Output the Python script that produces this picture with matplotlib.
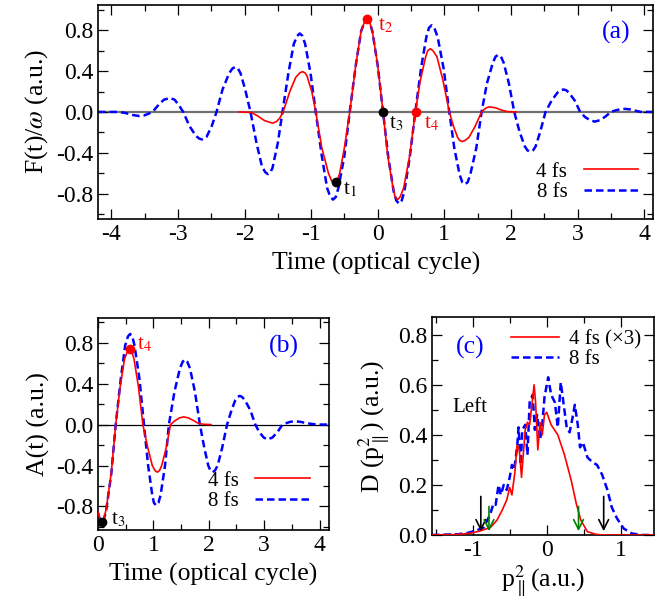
import matplotlib
matplotlib.use("Agg")
import matplotlib.pyplot as plt
from matplotlib.ticker import MultipleLocator

plt.rcParams['font.family'] = ['Liberation Serif', 'DejaVu Serif']
plt.rcParams['mathtext.fontset'] = 'stix'

# ---- panel (a): F(t)/omega ----
t_a8 = [-4.2, -3.9, -3.79, -3.68, -3.58, -3.51, -3.45, -3.38, -3.29, -3.21, -3.12,
        -3.05, -2.99, -2.92, -2.83, -2.73, -2.68, -2.64, -2.60, -2.57, -2.49, -2.42,
        -2.33, -2.23, -2.18, -2.14, -2.10, -2.06, -1.99, -1.91, -1.82, -1.74, -1.69,
        -1.65, -1.61, -1.58, -1.50, -1.43, -1.34, -1.26, -1.21, -1.17, -1.13, -1.09,
        -1.01, -0.93, -0.84, -0.76, -0.71, -0.67, -0.63, -0.59, -0.50, -0.42, -0.33,
        -0.25, -0.20, -0.16, -0.12, -0.08, 0.0, 0.08, 0.16, 0.24, 0.28, 0.32, 0.36,
        0.40, 0.48, 0.565, 0.65, 0.73, 0.77, 0.81, 0.85, 0.90, 0.99, 1.075, 1.15,
        1.23, 1.27, 1.31, 1.35, 1.39, 1.48, 1.56, 1.64, 1.73, 1.77, 1.81, 1.85,
        1.89, 1.97, 2.05, 2.13, 2.21, 2.25, 2.29, 2.33, 2.37, 2.44, 2.52, 2.61,
        2.70, 2.75, 2.79, 2.83, 2.87, 2.96, 3.04, 3.11, 3.19, 3.26, 3.34, 3.42,
        3.50, 3.57, 3.64, 3.71, 3.79, 3.87, 3.95, 4.15]
f_a8 = [0.0, 0.0, -0.01, -0.03, -0.04, -0.035, -0.02, 0.0, 0.07, 0.12, 0.137,
        0.12, 0.07, 0.0, -0.135, -0.235, -0.261, -0.27, -0.261, -0.245, -0.135, 0.0,
        0.22, 0.38, 0.427, 0.44, 0.427, 0.38, 0.22, 0.0, -0.305, -0.53, -0.59,
        -0.61, -0.59, -0.55, -0.305, 0.0, 0.385, 0.667, 0.745, 0.77, 0.745, 0.667,
        0.385, 0.0, -0.43, -0.745, -0.835, -0.86, -0.835, -0.745, -0.43, 0.0, 0.455,
        0.79, 0.88, 0.91, 0.88, 0.79, 0.455, 0.0, -0.45, -0.78, -0.87, -0.90, -0.87,
        -0.78, -0.45, 0.0, 0.425, 0.735, 0.825, 0.85, 0.825, 0.735, 0.425, 0.0, -0.355,
        -0.615, -0.69, -0.71, -0.69, -0.615, -0.355, 0.0, 0.28, 0.485, 0.543, 0.56, 0.543,
        0.485, 0.28, 0.0, -0.195, -0.34, -0.378, -0.39, -0.378, -0.34, -0.195, 0.0, 0.11,
        0.19, 0.213, 0.22, 0.213, 0.19, 0.11, 0.0, -0.048, -0.082, -0.095, -0.08, -0.045,
        0.0, 0.015, 0.026, 0.03, 0.025, 0.012, 0.0, 0.0]

t_a4 = [-2.08, -1.9, -1.8, -1.7, -1.58, -1.52, -1.47, -1.42, -1.32, -1.23, -1.17,
        -1.13, -1.09, -1.06, -0.99, -0.93, -0.84, -0.74, -0.69, -0.65, -0.61, -0.57,
        -0.50, -0.42, -0.33, -0.25, -0.20, -0.16, -0.12, -0.08, 0.0, 0.08, 0.15,
        0.23, 0.26, 0.30, 0.34, 0.39, 0.48, 0.565, 0.64, 0.72, 0.75, 0.79, 0.83,
        0.89, 0.98, 1.075, 1.14, 1.20, 1.23, 1.27, 1.31, 1.37, 1.46, 1.56, 1.60,
        1.64, 1.68, 1.77, 1.86, 1.95, 2.08]
f_a4 = [0.0, -0.005, -0.04, -0.085, -0.11, -0.095, -0.06, 0.0, 0.2, 0.34, 0.383,
        0.395, 0.383, 0.35, 0.2, 0.0, -0.35, -0.6, -0.68, -0.70, -0.68, -0.6,
        -0.35, 0.0, 0.455, 0.79, 0.88, 0.91, 0.88, 0.79, 0.455, 0.0, -0.43,
        -0.745, -0.83, -0.86, -0.83, -0.745, -0.43, 0.0, 0.31, 0.54, 0.60, 0.62, 0.60,
        0.54, 0.31, 0.0, -0.145, -0.25, -0.28, -0.29, -0.28, -0.25, -0.145, 0.0, 0.025,
        0.043, 0.05, 0.04, 0.018, 0.003, 0.0]

# instants marked on panel (a)
t_marks = [-0.63, -0.16, 0.08, 0.58]
f_marks = [-0.69, 0.91, 0.0, 0.0]
mark_names = ['t$_1$', 't$_2$', 't$_3$', 't$_4$']
mark_colors = ['black', 'red', 'black', 'red']

# ---- panel (b): A(t) ----
t_b8 = [0.0, 0.035, 0.07, 0.11, 0.15, 0.24, 0.32, 0.41, 0.49, 0.54, 0.58, 0.62,
        0.66, 0.75, 0.83, 0.905, 0.98, 1.01, 1.05, 1.09, 1.13, 1.21, 1.28, 1.38,
        1.48, 1.53, 1.57, 1.61, 1.66, 1.75, 1.84, 1.92, 1.99, 2.03, 2.07, 2.11,
        2.16, 2.24, 2.33, 2.41, 2.48, 2.52, 2.56, 2.60, 2.65, 2.75, 2.84, 2.91,
        2.99, 3.06, 3.15, 3.24, 3.33, 3.41, 3.48, 3.56, 3.66, 3.76, 3.9, 4.0, 4.17]
a_b8 = [-0.86, -0.93, -0.95, -0.92, -0.83, -0.48, 0.0, 0.44, 0.77, 0.86, 0.885, 0.86,
        0.77, 0.44, 0.0, -0.40, -0.69, -0.765, -0.79, -0.765, -0.69, -0.40, 0.0, 0.32,
        0.55, 0.615, 0.635, 0.615, 0.55, 0.32, 0.0, -0.23, -0.40, -0.45, -0.465, -0.45,
        -0.40, -0.23, 0.0, 0.14, 0.24, 0.27, 0.28, 0.27, 0.24, 0.14, 0.0, -0.073,
        -0.126, -0.146, -0.126, -0.073, 0.0, 0.016, 0.028, 0.032, 0.026, 0.014, 0.003,
        0.0, 0.0]
t_b4 = [0.0, 0.035, 0.07, 0.11, 0.15, 0.24, 0.32, 0.40, 0.48, 0.53, 0.57, 0.61,
        0.65, 0.73, 0.81, 0.90, 0.98, 1.03, 1.07, 1.11, 1.15, 1.23, 1.31, 1.39,
        1.47, 1.55, 1.63, 1.72, 1.80, 1.90, 2.04]
a_b4 = [-0.86, -0.92, -0.94, -0.91, -0.82, -0.47, 0.0, 0.37, 0.64, 0.715, 0.74, 0.715,
        0.64, 0.37, 0.0, -0.23, -0.40, -0.45, -0.465, -0.45, -0.40, -0.23, 0.0, 0.038,
        0.065, 0.075, 0.065, 0.04, 0.015, 0.003, 0.0]

# ---- panel (c): momentum distribution ----
p_c4 = [-1.55, -1.2, -1.03, -0.9, -0.76, -0.67, -0.60, -0.54, -0.50, -0.47, -0.43,
        -0.40, -0.37, -0.34, -0.29, -0.26, -0.23, -0.17, -0.15, -0.12, -0.09, -0.06,
        -0.03, 0.0, 0.06, 0.15, 0.24, 0.33, 0.40, 0.46, 0.55, 0.66, 0.75, 1.45]
d_c4 = [0.0, 0.002, 0.007, 0.016, 0.03, 0.06, 0.10, 0.14, 0.19, 0.16, 0.25,
        0.36, 0.34, 0.23, 0.42, 0.45, 0.44, 0.60, 0.53, 0.34, 0.45, 0.40,
        0.48, 0.49, 0.44, 0.40, 0.32, 0.22, 0.125, 0.06, 0.013, 0.003, 0.0, 0.0]
p_c8 = [-1.55, -1.2, -1.07, -0.95, -0.85, -0.80, -0.76, -0.72, -0.69, -0.65, -0.62,
        -0.58, -0.54, -0.50, -0.47, -0.44, -0.40, -0.38, -0.35, -0.33, -0.29, -0.26,
        -0.23, -0.19, -0.16, -0.13, -0.09, -0.06, -0.03, 0.02, 0.06, 0.11, 0.15,
        0.19, 0.23, 0.27, 0.31, 0.35, 0.38, 0.42, 0.45, 0.49, 0.55, 0.62, 0.68,
        0.75, 0.82, 0.88, 0.95, 1.04, 1.15, 1.28, 1.45]
d_c8 = [0.0, 0.003, 0.008, 0.018, 0.03, 0.06, 0.085, 0.125, 0.12, 0.20, 0.16,
        0.20, 0.18, 0.23, 0.28, 0.26, 0.35, 0.43, 0.28, 0.42, 0.44, 0.32,
        0.53, 0.56, 0.42, 0.48, 0.38, 0.44, 0.55, 0.63, 0.56, 0.53, 0.43,
        0.61, 0.52, 0.43, 0.41, 0.47, 0.52, 0.44, 0.35, 0.37, 0.31, 0.29, 0.28,
        0.24, 0.18, 0.11, 0.066, 0.026, 0.006, 0.0, 0.0]
black_arrows = [-0.89, 0.77]
green_arrows = [-0.78, 0.43]

fig = plt.figure(figsize=(6.55, 6.1), dpi=100)
TICK = 17
LAB = 18.5
SMALL = 15
DASH = (0, (3, 1.6))


def style(ax, xmin, ymin):
    ax.tick_params(which='both', direction='in', top=True, right=True, labelsize=TICK)
    ax.tick_params(which='major', length=7, width=0.9)
    ax.tick_params(which='minor', length=4, width=0.9)
    ax.xaxis.set_minor_locator(MultipleLocator(xmin))
    ax.yaxis.set_minor_locator(MultipleLocator(ymin))
    for s in ax.spines.values():
        s.set_linewidth(1.2)


# (a)
ax = fig.add_axes([0.1496, 0.641, 0.848, 0.351])
ax.axhline(0, color='#707070', lw=1.6, zorder=1)
ax.plot(t_a4, f_a4, color='red', lw=1.2, label='4 fs', zorder=3)
ax.plot(t_a8, f_a8, color='blue', lw=1.8, ls=DASH, label='8 fs', zorder=2)
for tm, fm, c in zip(t_marks, f_marks, mark_colors):
    ax.plot(tm, fm, 'o', color=c, ms=6, zorder=4)
ax.text(-0.52, -0.81, mark_names[0], color='black', fontsize=SMALL)
ax.text(0.0, 0.80, mark_names[1], color='red', fontsize=SMALL)
ax.text(0.165, -0.16, mark_names[2], color='black', fontsize=SMALL)
ax.text(0.69, -0.16, mark_names[3], color='red', fontsize=SMALL)
ax.text(3.37, 0.78, '(a)', color='blue', fontsize=LAB, va='center')
ax.set_xlim(-4.2, 4.14)
ax.set_ylim(-1.05, 1.05)
ax.set_xticks([-4, -3, -2, -1, 0, 1, 2, 3, 4])
ax.set_yticks([-0.8, -0.4, 0.0, 0.4, 0.8])
ax.set_yticklabels(['-0.8', '-0.4', '0.0', '0.4', '0.8'])
ax.set_xticklabels(['-4', '-3', '-2', '-1', '0', '1', '2', '3', '4'])
style(ax, 0.5, 0.2)
ax.set_xlabel('Time (optical cycle)', fontsize=LAB, labelpad=5)
ax.set_ylabel(r'F(t)/$\omega$ (a.u.)', fontsize=LAB)
ax.legend(loc='lower right', bbox_to_anchor=(0.995, 0.02), markerfirst=False,
          frameon=False, fontsize=SMALL, handlelength=2.6, labelspacing=0.05,
          borderaxespad=0.2)

# (b)
ax = fig.add_axes([0.1496, 0.1311, 0.3527, 0.3475])
ax.axhline(0, color='black', lw=0.9, zorder=1)
ax.plot(t_b4, a_b4, color='red', lw=1.2, label='4 fs', zorder=3)
ax.plot(t_b8, a_b8, color='blue', lw=1.8, ls=DASH, label='8 fs', zorder=2)
ax.plot(0.07, -0.95, 'o', color='black', ms=6, zorder=4)
ax.plot(0.57, 0.74, 'o', color='red', ms=6, zorder=4)
ax.text(0.23, -0.975, 't$_3$', color='black', fontsize=SMALL)
ax.text(0.71, 0.73, 't$_4$', color='red', fontsize=SMALL)
ax.text(3.08, 0.76, '(b)', color='blue', fontsize=LAB, va='center')
ax.set_xlim(0, 4.17)
ax.set_ylim(-1.03, 1.04)
ax.set_xticks([0, 1, 2, 3, 4])
ax.set_yticks([-0.8, -0.4, 0.0, 0.4, 0.8])
ax.set_yticklabels(['-0.8', '-0.4', '0.0', '0.4', '0.8'])
style(ax, 0.5, 0.2)
ax.set_xlabel('Time (optical cycle)', fontsize=LAB, labelpad=5)
ax.set_ylabel('A(t) (a.u.)', fontsize=LAB)
ax.legend(loc='lower right', bbox_to_anchor=(0.97, 0.03), markerfirst=False,
          frameon=False, fontsize=SMALL, handlelength=2.6, labelspacing=0.05,
          borderaxespad=0.2)

# (c)
ax = fig.add_axes([0.6595, 0.123, 0.339, 0.357])
ax.plot(p_c4, d_c4, color='red', lw=1.2, label=u'4 fs (\u00d73)', zorder=3)
ax.plot(p_c8, d_c8, color='blue', lw=1.8, ls=DASH, label='8 fs', zorder=2)
for xa in black_arrows:
    ax.annotate('', xy=(xa, 0.004), xytext=(xa, 0.165),
                arrowprops=dict(arrowstyle='->,head_length=0.7,head_width=0.35',
                                color='black', lw=1.2))
for xa in green_arrows:
    ax.annotate('', xy=(xa, 0.004), xytext=(xa, 0.125),
                arrowprops=dict(arrowstyle='->,head_length=0.7,head_width=0.35',
                                color='green', lw=1.2))
ax.text(-1.27, 0.49, 'Left', fontsize=SMALL)
ax.text(-1.23, 0.75, '(c)', color='blue', fontsize=LAB, va='center')
ax.set_xlim(-1.55, 1.45)
ax.set_ylim(0, 0.87)
ax.set_xticks([-1, 0, 1])
ax.set_xticklabels(['-1', '0', '1'])
ax.set_yticks([0.0, 0.2, 0.4, 0.6, 0.8])
ax.set_yticklabels(['0.0', '0.2', '0.4', '0.6', '0.8'])
style(ax, 0.5, 0.1)
ax.set_xlabel(r'p$_{\parallel}^{2}$(a.u.)', fontsize=LAB, labelpad=2)
ax.set_ylabel(r'D (p$_{\parallel}^{2}$) (a.u.)', fontsize=LAB)
ax.legend(loc='upper left', bbox_to_anchor=(0.3, 1.0), frameon=False,
          fontsize=SMALL, handlelength=2.3, handletextpad=0.5, labelspacing=0.0,
          borderaxespad=0.2)

fig.savefig('out.png', dpi=100)
